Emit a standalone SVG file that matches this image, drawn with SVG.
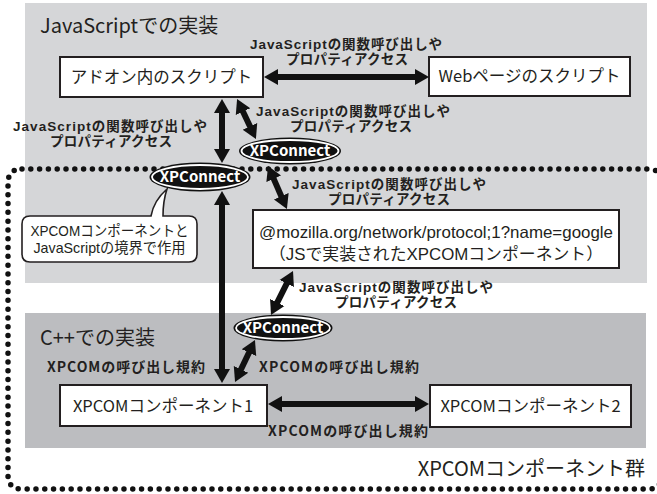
<svg xmlns="http://www.w3.org/2000/svg" width="657" height="494" viewBox="0 0 657 494">
<style>
.t{font-family:"Noto Sans CJK JP","Liberation Sans",sans-serif;fill:#231f20}
.tl{font-family:"Liberation Sans","Noto Sans CJK JP",sans-serif;fill:#231f20}
.reg{font-size:16.5px}
.ttl{font-size:20px}
.lbl{font-size:14px;font-weight:bold}
.lb2{font-size:13.5px;font-weight:bold}
.box{fill:#fff;stroke:#231f20;stroke-width:2}
.arr{stroke:#111;stroke-width:6;fill:none;marker-start:url(#ah);marker-end:url(#ah)}
.xo{fill:#111}
.xi{fill:#111;stroke:#fff;stroke-width:1.8}
.xt{font-family:"Noto Sans CJK JP","Liberation Sans",sans-serif;font-size:15px;font-weight:bold;fill:#fff}
</style>
<defs>
<marker id="ah" markerUnits="userSpaceOnUse" markerWidth="16" markerHeight="18" viewBox="0 -9 16 18" refX="1" refY="0" orient="auto-start-reverse"><path d="M0,-8 L14,0 L0,8 z" fill="#111"/></marker>
</defs>
<g id="js-panel"><rect x="25" y="3" width="622" height="280" fill="#d5d6d8"/>
<text class="t ttl" x="40" y="33">JavaScriptでの実装</text></g>
<g id="cpp-panel"><rect x="25" y="313" width="621" height="135" fill="#bcbdc0"/>
<text class="t ttl" x="40" y="345">C++での実装</text></g>
<g id="xpcom-group"><path d="M22,169 H648 Q662,169 662,183 V475 Q662,489 648,489 H22 Q8,489 8,475 V183 Q8,169 22,169 Z" fill="none" stroke="#111" stroke-width="5.5" stroke-linecap="round" stroke-dasharray="0 8.8"/>
<text class="t ttl" x="645" y="476" text-anchor="end">XPCOMコンポーネント群</text></g>
<g id="callout"><path d="M30,216 H151 C153,205 159,196 167,189 C164,198 163,207 163,216 H189 Q197,216 197,224 V254 Q197,262 189,262 H30 Q22,262 22,254 V224 Q22,216 30,216 Z" fill="#fff" stroke="#231f20" stroke-width="1.6"/>
<text class="tl" font-size="14.5" x="109.5" y="236" text-anchor="middle" textLength="158" lengthAdjust="spacingAndGlyphs">XPCOMコンポーネントと</text>
<text class="tl" font-size="14.5" x="109.5" y="253" text-anchor="middle" textLength="152" lengthAdjust="spacingAndGlyphs">JavaScriptの境界で作用</text></g>
<g id="addon-script"><rect class="box" x="60" y="57" width="203" height="40"/>
<text class="t reg" x="161.5" y="83" text-anchor="middle">アドオン内のスクリプト</text></g>
<g id="web-script"><rect class="box" x="429" y="57" width="201" height="39"/>
<text class="t reg" x="529.5" y="82" text-anchor="middle">Webページのスクリプト</text></g>
<g id="js-component"><rect class="box" x="253" y="210" width="366" height="58"/>
<text class="tl reg" x="436" y="238" text-anchor="middle" textLength="354" lengthAdjust="spacingAndGlyphs">@mozilla.org/network/protocol;1?name=google</text>
<text class="tl reg" x="436" y="260" text-anchor="middle" textLength="334" lengthAdjust="spacingAndGlyphs">（JSで実装されたXPCOMコンポーネント）</text></g>
<g id="component1"><rect class="box" x="60" y="385" width="207" height="41"/>
<text class="t reg" x="163" y="412" text-anchor="middle">XPCOMコンポーネント1</text></g>
<g id="component2"><rect class="box" x="430" y="385" width="201" height="42"/>
<text class="t reg" x="530.5" y="412" text-anchor="middle">XPCOMコンポーネント2</text></g>
<g id="connectors">
<line class="arr" x1="277" y1="77" x2="416" y2="77"/>
<line class="arr" x1="222" y1="112" x2="222" y2="150"/>
<line class="arr" x1="242.6" y1="110.7" x2="250.4" y2="127.3"/>
<line class="arr" x1="273.3" y1="177.9" x2="281.7" y2="197.1"/>
<line class="arr" x1="222" y1="204" x2="222" y2="370"/>
<line class="arr" x1="287.2" y1="282.6" x2="276.8" y2="303.4"/>
<line class="arr" x1="249.4" y1="351.7" x2="240.6" y2="370.3"/>
<line class="arr" x1="281" y1="404" x2="416" y2="404"/>
<g class="tl lb2" text-anchor="middle" lengthAdjust="spacingAndGlyphs">
<text x="346" y="48.5" textLength="192">JavaScriptの関数呼び出しや</text><text x="347" y="64" textLength="122">プロパティアクセス</text>
<text x="110" y="130.5" textLength="194">JavaScriptの関数呼び出しや</text><text x="111" y="146" textLength="122">プロパティアクセス</text>
<text x="353" y="115.5" textLength="194">JavaScriptの関数呼び出しや</text><text x="351" y="131" textLength="122">プロパティアクセス</text>
<text x="389" y="188.5" textLength="194">JavaScriptの関数呼び出しや</text><text x="389" y="204" textLength="122">プロパティアクセス</text>
<text x="396" y="291.5" textLength="194">JavaScriptの関数呼び出しや</text><text x="396" y="307" textLength="122">プロパティアクセス</text>
</g>
<g class="t lbl" lengthAdjust="spacingAndGlyphs"><text x="126" y="372" text-anchor="middle" textLength="158">XPCOMの呼び出し規約</text><text x="259" y="372" textLength="160">XPCOMの呼び出し規約</text><text x="268" y="436" textLength="160">XPCOMの呼び出し規約</text></g>
</g>
<g id="xpconnect1"><ellipse class="xo" cx="200" cy="177" rx="50.5" ry="14.5"/><ellipse class="xi" cx="200" cy="177" rx="48" ry="12"/><text class="xt" x="200" y="182" text-anchor="middle">XPConnect</text></g>
<g id="xpconnect2"><ellipse class="xo" cx="290" cy="151" rx="51" ry="13.5"/><ellipse class="xi" cx="290" cy="151" rx="48.5" ry="11"/><text class="xt" x="290" y="156" text-anchor="middle">XPConnect</text></g>
<g id="xpconnect3"><ellipse class="xo" cx="283" cy="328" rx="49.5" ry="13.5"/><ellipse class="xi" cx="283" cy="328" rx="47" ry="11"/><text class="xt" x="283" y="333" text-anchor="middle">XPConnect</text></g>
</svg>
